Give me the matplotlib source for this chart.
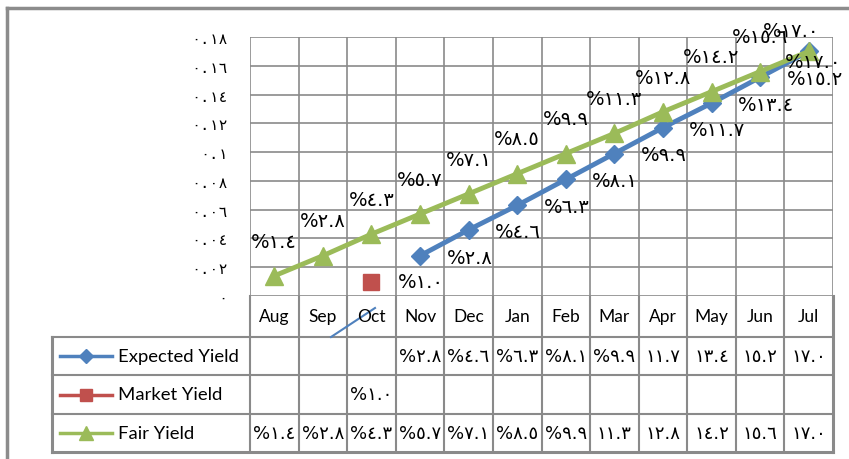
import numpy as np
import matplotlib.pyplot as plt
import matplotlib.transforms as mtransforms

months = ["Aug", "Sep", "Oct", "Nov", "Dec", "Jan", "Feb", "Mar", "Apr", "May", "Jun", "Jul"]
expected_yield = [None, None, None, 0.028, 0.046, 0.063, 0.081, 0.099, 0.117, 0.134, 0.152, 0.170]
market_yield = [None, None, 0.010, None, None, None, None, None, None, None, None, None]
fair_yield = [0.014, 0.028, 0.043, 0.057, 0.071, 0.085, 0.099, 0.113, 0.128, 0.142, 0.156, 0.170]
y_ticks = [0, 0.02, 0.04, 0.06, 0.08, 0.10, 0.12, 0.14, 0.16, 0.18]

BLUE, RED, GREEN = "#4F81BD", "#C0504D", "#9BBB59"
GRID = "#8a8a8a"
AR = str.maketrans("0123456789", "٠١٢٣٤٥٦٧٨٩")
NUM_FONT = ["DejaVu Sans"]
TICK_FONT = ["DejaVu Sans Mono", "DejaVu Sans"]
TXT_FONT = ["Lato", "DejaVu Sans"]

W, H = 849, 460


def box(l, t, r, b):
    return [l / W, 1 - b / H, (r - l) / W, (b - t) / H]


def pct(v, sign=True):
    s = f"{v * 100:.1f}".translate(AR)
    return "%" + s if sign else s


def arr(vals):
    return np.array([np.nan if v is None else v for v in vals], dtype=float)


fig = plt.figure(figsize=(W / 100, H / 100), dpi=100)

# overlay in pixel units for the frame and the data table
tab = fig.add_axes([0, 0, 1, 1])
tab.set_xlim(0, W)
tab.set_ylim(H, 0)
tab.axis("off")

ax = fig.add_axes(box(250, 38, 833, 297))
ax.set_xlim(-0.5, len(months) - 0.5)
ax.set_ylim(0, 0.18)
for s in ax.spines.values():
    s.set_visible(False)
ax.set_xticks([])
ax.set_yticks(y_ticks)
ax.set_yticklabels([f"{t:g}".translate(AR) for t in y_ticks], family=TICK_FONT, fontsize=11)
ax.tick_params(axis="y", length=0, pad=16)
for t in y_ticks:
    ax.axhline(t, color=GRID, lw=1.2, zorder=0)
for i in range(len(months) + 1):
    ax.axvline(i - 0.5, color=GRID, lw=1.2, zorder=0)

x = np.arange(len(months))
exp_a, mkt_a, fair_a = arr(expected_yield), arr(market_yield), arr(fair_yield)

ax.plot(x, exp_a, color=BLUE, lw=3.5, marker="D", ms=9, clip_on=False, zorder=3)
ax.plot(x, mkt_a, color=RED, lw=3.5, marker="s", ms=12, clip_on=False, zorder=3)
ax.plot(x, fair_a, color=GREEN, lw=3.5, marker="^", ms=13, clip_on=False, zorder=4)

last = len(months) - 1
lbl = dict(family=NUM_FONT, fontsize=14, va="center", zorder=5, annotation_clip=False)
for i, v in enumerate(fair_a):
    if not np.isnan(v):
        # the last label is pulled back inside the chart area
        off = (0, 25) if i < last else (-13, 15)
        ax.annotate(pct(v), (i, v), xytext=off, textcoords="offset points", ha="center", **lbl)
for i, v in enumerate(exp_a):
    if not np.isnan(v):
        off = (19, -1) if i < last else (-17, -7)
        ax.annotate(pct(v), (i, v), xytext=off, textcoords="offset points", ha="left", **lbl)
for i, v in enumerate(mkt_a):
    if not np.isnan(v):
        ax.annotate(pct(v), (i, v), xytext=(19, 0), textcoords="offset points", ha="left", **lbl)

# data table under the plot
col = mtransforms.blended_transform_factory(ax.transData, tab.transData)
rows = [297, 338, 376, 415, 453]
left, right = 52, 833
for y in rows[1:-1]:
    tab.plot([left, right], [y, y], color=GRID, lw=1.5)
tab.plot([left, right], [rows[-1], rows[-1]], color=GRID, lw=2.2)
tab.plot([left, left], [rows[1], rows[-1]], color=GRID, lw=2.2)
for i in range(len(months) + 1):
    tab.plot([i - 0.5, i - 0.5], [rows[0], rows[-1]], color=GRID,
             lw=2.2 if i == len(months) else 1.5, transform=col)

for i, m in enumerate(months):
    tab.text(i, (rows[0] + rows[1]) / 2, m, transform=col, ha="center", va="center",
             family=TXT_FONT, fontsize=12.5)

series = [("Expected Yield", exp_a, BLUE, "D", 7),
          ("Market Yield", mkt_a, RED, "s", 9),
          ("Fair Yield", fair_a, GREEN, "^", 10)]
for r, (name, vals, c, mk, ms) in enumerate(series):
    yc = (rows[r + 1] + rows[r + 2]) / 2
    tab.plot([60, 112], [yc, yc], color=c, lw=2.5)
    tab.plot([86], [yc], color=c, marker=mk, ms=ms)
    tab.text(118, yc, name, ha="left", va="center", family=TXT_FONT, fontsize=13.3)
    for i, v in enumerate(vals):
        if not np.isnan(v):
            # two-digit values are too wide for the cell, the sign gets cut off
            tab.text(i, yc, pct(v, sign=v < 0.10), transform=col, ha="center", va="center",
                     family=NUM_FONT, fontsize=13)

# chart area frame and the stray connector line
tab.plot([7, 7], [9, H], color="#8c8c8c", lw=2.5)
tab.plot([7, W], [9, 9], color="#8c8c8c", lw=2.5)
tab.plot([331, 375], [338, 309], color=BLUE, lw=1.5)

fig.savefig("out.png", dpi=100)
